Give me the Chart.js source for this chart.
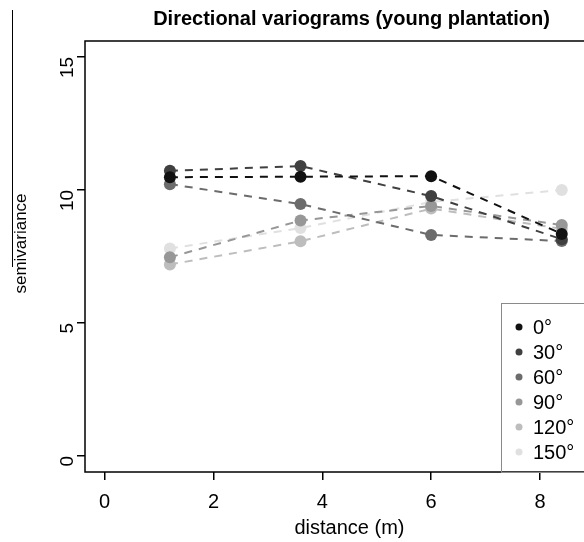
<!DOCTYPE html>
<html>
<head>
<meta charset="utf-8">
<script src="https://cdn.jsdelivr.net/npm/chart.js@4/dist/chart.umd.min.js"></script>
<style>
  html, body { margin: 0; padding: 0; background: #fff; overflow: hidden; }
  #wrap { width: 620px; height: 542px; }
</style>
</head>
<body>
<div id="wrap"><canvas id="myChart" width="620" height="542"></canvas></div>
<script>
// distances (m) of the lag classes
var distances = [1.2, 3.6, 6.0, 8.4];
// semivariance per direction
var dir0   = [10.48, 10.50, 10.52, 8.35];
var dir30  = [10.72, 10.90, 9.77, 8.15];
var dir60  = [10.22, 9.47, 8.31, 8.08];
var dir90  = [7.47, 8.85, 9.40, 8.68];
var dir120 = [7.20, 8.07, 9.30, 8.54];
var dir150 = [7.80, 8.57, 9.55, 10.00];

var dirLabels = ['0°', '30°', '60°', '90°', '120°', '150°'];
var dirColors = ['#111111', '#404040', '#6c6c6c', '#979797', '#bdbdbd', '#e0e0e0'];
var xTicks = [0, 2, 4, 6, 8];
var yTicks = [0, 5, 10, 15];

var FONT = "'Liberation Sans', Arial, Helvetica, sans-serif";

function makeSet(label, vals, col) {
	return {
		label: label,
		data: distances.map(function (d, i) { return { x: d, y: vals[i] }; }),
		borderColor: col,
		backgroundColor: col,
		pointBackgroundColor: col,
		pointBorderWidth: 0,
		pointRadius: 6,
		borderWidth: 2,
		borderDash: [8, 7],
		showLine: true,
		fill: false,
		tension: 0
	};
}

var allSeries = [dir0, dir30, dir60, dir90, dir120, dir150];
var datasets = allSeries.map(function (s, i) { return makeSet(dirLabels[i], s, dirColors[i]); });

// box, title, legend and the stray line on the left
var extras = {
	id: 'extras',
	afterDraw: function (chart) {
		var c = chart.ctx, a = chart.chartArea;
		c.save();
		c.strokeStyle = '#000';
		c.lineWidth = 1.5;
		c.strokeRect(a.left, a.top, a.right - a.left, a.bottom - a.top);

		// title
		c.fillStyle = '#000';
		c.font = 'bold 20px ' + FONT;
		c.textAlign = 'center';
		c.textBaseline = 'middle';
		c.fillText('Directional variograms (young plantation)', (a.left + a.right) / 2 + 2, 19);

		// y axis title
		c.save();
		c.translate(21, (a.top + a.bottom) / 2 - 13);
		c.rotate(-Math.PI / 2);
		c.font = '17px ' + FONT;
		c.fillText('semivariance', 0, 0);
		c.restore();

		// stray line
		c.lineWidth = 1;
		c.beginPath();
		c.moveTo(12.5, 10);
		c.lineTo(12.5, 267);
		c.stroke();

		// legend (bottom right)
		var lx = 501, ly = 303;
		c.strokeStyle = '#8a8a8a';
		c.lineWidth = 1;
		c.strokeRect(lx + 0.5, ly + 0.5, a.right - lx, a.bottom - ly);
		c.font = '20px ' + FONT;
		c.textAlign = 'left';
		chart.data.datasets.forEach(function (ds, i) {
			var yy = ly + 24 + i * 25;
			c.fillStyle = ds.borderColor;
			c.beginPath();
			c.arc(519, yy, 3.5, 0, Math.PI * 2);
			c.fill();
			c.fillStyle = '#000';
			c.fillText(ds.label, 533, yy + 1);
		});
		c.restore();
	}
};

var ctx = document.getElementById('myChart').getContext('2d');
var myChart = new Chart(ctx, {
	type: 'scatter',
	data: { datasets: datasets },
	options: {
		responsive: false,
		animation: false,
		layout: { padding: { top: 41, left: 0, right: 2, bottom: 0 } },
		plugins: {
			legend: { display: false },
			title: { display: false },
			tooltip: { enabled: false }
		},
		scales: {
			x: {
				type: 'linear',
				min: -0.36, max: 9.36,
				afterBuildTicks: function (s) { s.ticks = xTicks.map(function (v) { return { value: v }; }); },
				afterFit: function (s) { s.height = 70; },
				grid: { drawOnChartArea: false, drawTicks: true, tickLength: 8, color: '#000', lineWidth: 1.5 },
				border: { display: false },
				ticks: { color: '#000', font: { family: FONT, size: 20 }, padding: 10, maxRotation: 0, autoSkip: false },
				title: { display: true, text: 'distance (m)', color: '#000', font: { family: FONT, size: 20 }, padding: { top: 0, bottom: 2 } }
			},
			y: {
				type: 'linear',
				min: -0.6, max: 15.6,
				afterBuildTicks: function (s) { s.ticks = yTicks.map(function (v) { return { value: v }; }); },
				afterFit: function (s) { s.width = 85; },
				grid: { drawOnChartArea: false, drawTicks: true, tickLength: 8, color: '#000', lineWidth: 1.5 },
				border: { display: false },
				ticks: { color: '#000', font: { family: FONT, size: 19 }, padding: 9, minRotation: 90, maxRotation: 90, autoSkip: false }
			}
		}
	},
	plugins: [extras]
});
</script>
</body>
</html>
